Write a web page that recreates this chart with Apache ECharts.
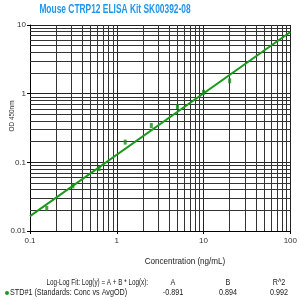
<!DOCTYPE html>
<html>
<head>
<meta charset="utf-8">
<script src="https://cdn.jsdelivr.net/npm/echarts@6/dist/echarts.min.js"></script>
<style>
  html, body { margin: 0; padding: 0; background: #fff; }
  #chart { width: 300px; height: 300px; }
</style>
</head>
<body>
<div id="chart"></div>
<script>
// standards (conc ng/mL vs avg OD)
const conc = [0.156, 0.312, 0.625, 1.25, 2.5, 5, 10, 20];
const od = [0.0213, 0.0454, 0.081, 0.197, 0.343, 0.646, 1.045, 1.54];
// fitted line end points
const fitLine = [[0.1, 0.0165], [100, 7.9]];
const xDecades = [0.1, 1, 10];
const yDecades = [0.01, 0.1, 1];
const minorSteps = [2, 3, 4, 5, 6, 7, 8, 9];
const fitHead = ["A", "B", "R^2"];
const fitVals = ["-0.891", "0.894", "0.992"];

const font = "'Liberation Sans', Arial, sans-serif";
const green = "#1a9a1a";

let minorLines = [];
xDecades.forEach(d => {
  minorSteps.forEach(k => minorLines.push({ xAxis: +(d * k).toPrecision(3) }));
});
yDecades.forEach(d => {
  minorSteps.forEach(k => minorLines.push({ yAxis: +(d * k).toPrecision(3) }));
});

// narrow-looking text: squeeze horizontally
function txt(text, x, y, size, align, sx) {
  return {
    type: "text", x: x, y: y, scaleX: sx,
    style: { text: text, font: size + "px " + font, fill: "#222", align: align, verticalAlign: "middle" }
  };
}

const colX = [173, 228, 279];
let graphics = [
  txt("Mouse CTRP12 ELISA Kit SK00392-08", 115, 10, 12, "center", 0.7),
  {
    type: "text", x: 12, y: 116, rotation: Math.PI / 2, scaleX: 0.8,
    style: { text: "OD 450nm", font: "8px " + font, fill: "#333", align: "center", verticalAlign: "middle" }
  },
  txt("Concentration (ng/mL)", 185, 262, 9, "center", 0.9),
  txt("Log-Log Fit: Log(y) = A + B * Log(x):", 148, 283, 9, "right", 0.7),
  { type: "circle", shape: { cx: 7, cy: 293, r: 2 }, style: { fill: green } },
  txt("STD#1 (Standards: Conc vs AvgOD)", 10, 293, 9, "left", 0.8)
];
graphics[0].style.font = "bold 12px " + font;
graphics[0].style.fill = "#1e96ec";
fitHead.forEach((t, i) => {
  graphics.push(txt(t, colX[i], 283, 9, "center", 0.8));
  graphics.push(txt(fitVals[i], colX[i], 293, 9, "center", 0.8));
});

let chart = echarts.init(document.getElementById("chart"));
chart.setOption({
  animation: false,
  grid: { left: 30, right: 5, top: 25, bottom: 69 },
  xAxis: {
    type: "log", min: 0.1, max: 100, logBase: 10,
    axisLine: { lineStyle: { color: "#000" } },
    axisTick: { length: 3, lineStyle: { color: "#000" } },
    axisLabel: { fontSize: 8, color: "#333", fontFamily: font, margin: 6 },
    splitLine: { show: true, lineStyle: { color: "#222", width: 1 } }
  },
  yAxis: {
    type: "log", min: 0.01, max: 10, logBase: 10,
    axisLine: { show: true, lineStyle: { color: "#000" } },
    axisTick: { show: true, length: 3, lineStyle: { color: "#000" } },
    axisLabel: { fontSize: 8, color: "#333", fontFamily: font, margin: 4 },
    splitLine: { show: true, lineStyle: { color: "#222", width: 1 } }
  },
  graphic: graphics,
  series: [
    {
      type: "line", data: fitLine, showSymbol: false, silent: true,
      lineStyle: { color: green, width: 2 }, z: 3,
      markLine: {
        silent: true, symbol: "none", label: { show: false },
        lineStyle: { color: "#333", width: 1, type: "solid" },
        data: minorLines, z: 1
      }
    },
    {
      type: "scatter", data: conc.map((c, i) => [c, od[i]]),
      symbol: "rect", symbolSize: [3, 5],
      itemStyle: { color: "#138f13" }, z: 4
    }
  ]
});
</script>
</body>
</html>
